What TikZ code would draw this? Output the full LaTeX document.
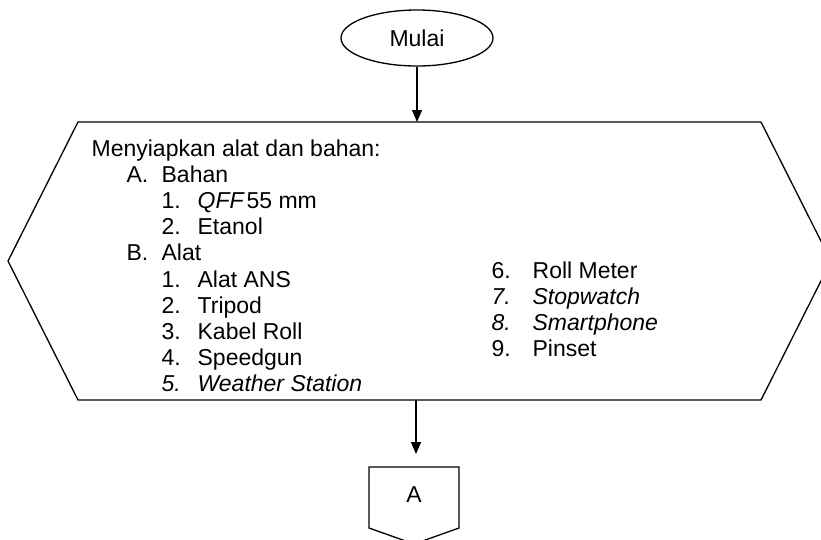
\documentclass[tikz,border=0pt]{standalone}
\usepackage{fontspec}
\setmainfont{Liberation Sans}
\usetikzlibrary{arrows.meta,shapes.geometric}
\begin{document}
\begin{tikzpicture}[x=1pt,y=-1pt,
  line width=1.3pt,
  txt/.style={anchor=base west,inner sep=0pt,font=\fontsize{23}{26}\selectfont},
  flow/.style={-{Triangle[length=12pt,width=10pt]}},
  terminal/.style={draw,ellipse,minimum width=152pt,minimum height=56pt,inner sep=0pt,font=\fontsize{23}{26}\selectfont}]
\useasboundingbox (0,0) rectangle (821,539);
\begin{scope}
\clip (0,0) rectangle (821,539);
% start terminal
\node[terminal] (mulai) at (417,38) {Mulai};
% preparation hexagon
\coordinate (hexN) at (417,122);
\coordinate (hexS) at (416,400);
\draw (78,122) -- (761,122) -- (831,261) -- (761,400) -- (78,400) -- (8,261) -- cycle;
% off-page connector
\coordinate (offN) at (414,467);
\draw (369,467) -- (459,467) -- (459,528) -- (414,544) -- (369,528) -- cycle;
\node[inner sep=0pt,font=\fontsize{23}{26}\selectfont] (conA) at (414,495) {A};
\end{scope}
% connectors
\draw[flow] (mulai.south) -- (hexN);
\draw[flow,shorten >=13pt] (hexS) -- (hexS |- offN);
% list, left column
\node[txt] (t0) at (91,156.5) {Menyiapkan alat dan bahan:};
\node[txt] (la) at (126,182.6) {A.};
\node[txt] (lat) at (161,182.6) {Bahan};
\node[txt] (a1) at (161,208.7) {1.};
\node[txt] (a1t) at (197,208.7) {{\itshape QFF}\hspace{3pt}55 mm};
\node[txt] (a2) at (161,234.8) {2.};
\node[txt] (a2t) at (197,234.8) {Etanol};
\node[txt] (lb) at (126,260.9) {B.};
\node[txt] (lbt) at (161,260.9) {Alat};
\node[txt] (b1) at (161,287) {1.};
\node[txt] (b1t) at (197,287) {Alat ANS};
\node[txt] (b2) at (161,313.1) {2.};
\node[txt] (b2t) at (197,313.1) {Tripod};
\node[txt] (b3) at (161,339.2) {3.};
\node[txt] (b3t) at (197,339.2) {Kabel Roll};
\node[txt] (b4) at (161,365.3) {4.};
\node[txt] (b4t) at (197,365.3) {Speedgun};
\node[txt] (b5) at (161,391.4) {\itshape 5.};
\node[txt] (b5t) at (197,391.4) {\itshape Weather Station};
% list, right column
\node[txt] (b6) at (491,278.3) {6.};
\node[txt] (b6t) at (532,278.3) {Roll Meter};
\node[txt] (b7) at (491,304.4) {\itshape 7.};
\node[txt] (b7t) at (532,304.4) {\itshape Stopwatch};
\node[txt] (b8) at (491,330.5) {\itshape 8.};
\node[txt] (b8t) at (532,330.5) {\itshape Smartphone};
\node[txt] (b9) at (491,356.6) {9.};
\node[txt] (b9t) at (532,356.6) {Pinset};
\end{tikzpicture}
\end{document}
